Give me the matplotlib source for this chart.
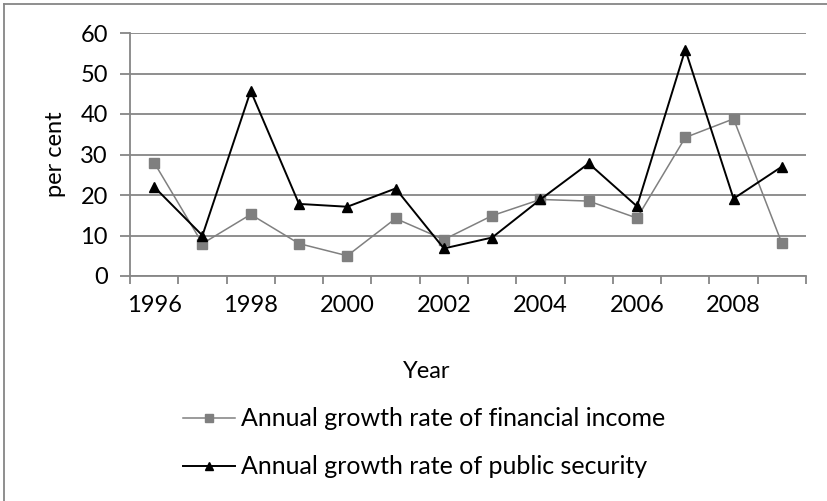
import matplotlib
matplotlib.use("Agg")
import matplotlib.pyplot as plt
import numpy as np

years = list(range(1996, 2010))
financial_income = [28, 8, 15.2, 8, 5, 14.2, 9, 14.9, 18.9, 18.5, 14.3, 34.2, 38.8, 8.1]
public_security = [22, 10, 45.7, 17.8, 17.1, 21.6, 6.8, 9.5, 18.9, 27.8, 17.2, 55.9, 19.1, 27]
year_labels = [str(y) for y in years if y % 2 == 0]

plt.rcParams['font.family'] = ['Lato', 'DejaVu Sans']
grey = '#868686'

fig = plt.figure(figsize=(8.28, 5.01), dpi=100)
ax = fig.add_axes([130 / 828, 1 - 276 / 501, 676 / 828, 243 / 501])

x = np.arange(len(years))
ax.plot(x, financial_income, color='#808080', lw=1.1, marker='s', ms=6.5,
        mfc='#7f7f7f', mec='#7f7f7f', label='Annual growth rate of financial income')
ax.plot(x, public_security, color='black', lw=1.4, marker='^', ms=7.5,
        label='Annual growth rate of public security')

ax.set_xlim(-0.5, len(years) - 0.5)
ax.set_ylim(0, 60)
ax.set_yticks(range(0, 61, 10))
ax.grid(axis='y', color=grey, lw=1.3)
ax.set_axisbelow(True)

# tick marks between categories, labels on every other year
ax.set_xticks(np.arange(-0.5, len(years), 1))
ax.set_xticklabels([])
ax.set_xticks(x[::2], minor=True)
ax.set_xticklabels(year_labels, minor=True)
ax.tick_params(axis='x', which='major', length=6, color=grey, width=1.3)
ax.tick_params(axis='x', which='minor', length=0, pad=14, labelsize=17)
ax.tick_params(axis='y', length=7, color=grey, width=1.3, labelsize=17, pad=9)

for s in ['top', 'right']:
    ax.spines[s].set_visible(False)
for s in ['left', 'bottom']:
    ax.spines[s].set_color(grey)
    ax.spines[s].set_linewidth(1.3)

ax.set_ylabel('per cent', fontsize=17, labelpad=10)
fig.text(427 / 828, 1 - 371 / 501, 'Year', ha='center', va='center', fontsize=17)

leg = fig.legend(loc='center', bbox_to_anchor=(424 / 828, 1 - 443 / 501), frameon=False,
                 fontsize=18, ncol=1, handlelength=2.1, handletextpad=0.25,
                 labelspacing=1.0, markerscale=0.85)

# outer chart frame
fig.add_artist(plt.Line2D([4 / 828, 4 / 828], [0, 1 - 4 / 501], color=grey, lw=1.3,
                          transform=fig.transFigure))
fig.add_artist(plt.Line2D([4 / 828, 1], [1 - 4 / 501, 1 - 4 / 501], color=grey, lw=1.3,
                          transform=fig.transFigure))

fig.savefig('out.png', dpi=100)
